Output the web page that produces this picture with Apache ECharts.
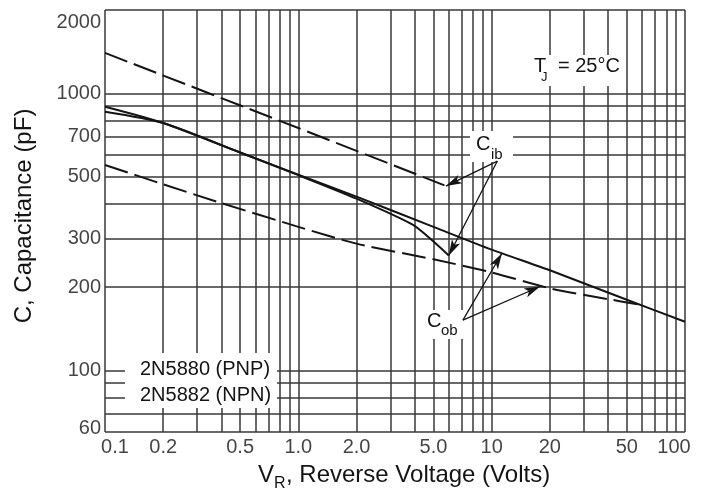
<!DOCTYPE html>
<html>
<head>
<meta charset="utf-8">
<script src="https://cdn.jsdelivr.net/npm/echarts@6/dist/echarts.min.js"></script>
<style>
  html, body { margin: 0; padding: 0; background: #fff; }
  #chart { width: 706px; height: 492px; }
</style>
</head>
<body>
<div id="chart"></div>
<script>
// Log-log grid: reverse voltage (V) and capacitance (pF)
const voltageGrid = [0.1, 0.2, 0.3, 0.4, 0.5, 0.6, 0.7, 0.8, 0.9, 1, 2, 3, 4, 5, 6, 7, 8, 9,
                     10, 20, 30, 40, 50, 60, 70, 80, 90, 100];
const capacitanceGrid = [60, 70, 80, 90, 100, 200, 300, 400, 500, 600, 700, 800, 900, 1000, 2000];

// Tick labels
const voltageTicks = [0.1, 0.2, 0.5, 1, 2, 5, 10, 20, 50, 100];
const voltageTickText = ['0.1', '0.2', '0.5', '1.0', '2.0', '5.0', '10', '20', '50', '100'];
const capacitanceTicks = [60, 100, 200, 300, 500, 700, 1000, 2000];

// Capacitance curves, [V_R, pF]
const cibPnp = [[0.1, 1400], [1, 750], [5.7, 466]];
const cibNpn = [[0.1, 859], [0.2, 782], [0.5, 612], [1, 507], [2, 417], [3.9, 336], [5, 292], [6, 260]];
const cobPnp = [[0.1, 552], [0.2, 470], [0.4, 402], [1, 330], [2, 287], [5, 252], [10, 226],
                [20, 198], [40, 181], [58, 173]];
const cobNpn = [[0.1, 895], [0.2, 782], [0.5, 612], [1, 509], [2, 424], [5, 330], [10, 273],
                [20, 230], [50, 180], [100, 150]];

// Pointer arrows from the C_ib / C_ob labels to their curves, [V_R, pF]
const cibPointers = [[[10.7, 570], [5.8, 463]], [[10.7, 570], [6.0, 260]]];
const cobPointers = [[[7.1, 152], [11.3, 265]], [[7.1, 152], [17.8, 201]]];

const ink = '#141414';
const family = '"Liberation Sans", Arial, Helvetica, sans-serif';

const chart = echarts.init(document.getElementById('chart'), null, { renderer: 'canvas' });

function curve(name, data, dashed) {
  return {
    name, type: 'line', data, z: 5,
    showSymbol: false, smooth: 0.25,
    lineStyle: { color: ink, width: 2, type: dashed ? [24, 7] : 'solid' }
  };
}

function pointer(pairs) {
  return pairs.map(([from, to]) => [{ coord: from }, { coord: to }]);
}

function txt(x, y, text, size, extra) {
  return Object.assign({
    type: 'text', z: 6, x, y,
    style: { text, fontSize: size, fontFamily: family, fill: ink, verticalAlign: 'middle' }
  }, extra || {});
}

function panel(x, y, w, h) {
  return { type: 'rect', z: 3, shape: { x, y, width: w, height: h }, style: { fill: '#fff' } };
}

const option = {
  animation: false,
  backgroundColor: '#fff',
  grid: { left: 105, top: 10, width: 580, height: 422, containLabel: false },
  xAxis: {
    type: 'log', logBase: 10, min: 0.1, max: 100,
    axisLine: { show: false }, axisTick: { show: false },
    axisLabel: { show: false }, splitLine: { show: false }
  },
  yAxis: {
    type: 'log', logBase: 10, min: 60, max: 2000,
    axisLine: { show: false }, axisTick: { show: false },
    axisLabel: { show: false }, splitLine: { show: false }
  },
  series: [
    {
      name: 'grid', type: 'line', data: [], z: 1, silent: true,
      markLine: {
        z: 1, silent: true, animation: false,
        symbol: ['none', 'none'],
        label: { show: false },
        lineStyle: { color: '#383838', width: 1.5, type: 'solid' },
        data: voltageGrid.map(v => ({ xAxis: v }))
          .concat(capacitanceGrid.map(v => ({ yAxis: v })))
      }
    },
    curve('Cib 2N5880', cibPnp, true),
    curve('Cib 2N5882', cibNpn, false),
    curve('Cob 2N5880', cobPnp, true),
    curve('Cob 2N5882', cobNpn, false),
    {
      name: 'pointers', type: 'line', data: [], z: 7, silent: true,
      markLine: {
        z: 7, silent: true, animation: false,
        symbol: ['none', 'arrow'],
        symbolSize: [7, 16],
        label: { show: false },
        lineStyle: { color: ink, width: 1.3, type: 'solid' },
        data: pointer(cibPointers).concat(pointer(cobPointers))
      }
    },
    {
      name: 'x ticks', type: 'scatter', z: 8, silent: true,
      symbolSize: 0,
      label: {
        show: true, position: 'bottom', distance: 5,
        fontSize: 20, fontFamily: family, color: ink
      },
      data: voltageTicks.map((v, i) => {
        const item = { value: [v, capacitanceGrid[0]], label: { formatter: voltageTickText[i] } };
        if (i === 0) item.label.offset = [10, 0];
        if (i === voltageTicks.length - 1) item.label.offset = [-11, 0];
        return item;
      })
    },
    {
      name: 'y ticks', type: 'scatter', z: 8, silent: true,
      symbolSize: 0,
      label: {
        show: true, position: 'left', distance: 4,
        fontSize: 20, fontFamily: family, color: ink,
        formatter: p => String(p.value[1])
      },
      data: capacitanceTicks.map((v, i) => {
        const item = { value: [voltageGrid[0], v] };
        if (i === 0) item.label = { offset: [0, -4] };
        if (i === capacitanceTicks.length - 1) item.label = { offset: [0, 12] };
        return item;
      })
    }
  ],
  graphic: [
    // white panels that break the grid behind in-plot text
    panel(125, 353, 152, 55),
    panel(470, 131, 43, 31),
    panel(424, 310, 39, 29),
    panel(530, 55, 92, 31),

    // part-number key
    txt(140, 369, '2N5880 (PNP)', 20),
    txt(140, 395, '2N5882 (NPN)', 20),

    // curve labels
    txt(476, 144, 'C', 20),
    txt(491, 155, 'ib', 15),
    txt(427, 321, 'C', 20),
    txt(441, 331, 'ob', 15),

    // junction temperature
    txt(534, 66, 'T', 20),
    txt(541, 77, 'J', 13),
    txt(558, 66, '= 25°C', 20),

    // axis titles
    txt(258, 475, 'V', 24),
    txt(274, 484, 'R', 16),
    txt(286, 475, ', Reverse Voltage (Volts)', 24),
    {
      type: 'text', z: 6, x: 24, y: 216, rotation: Math.PI / 2,
      style: {
        text: 'C, Capacitance (pF)', fontSize: 24, fontFamily: family, fill: ink,
        align: 'center', verticalAlign: 'middle'
      }
    }
  ]
};

chart.setOption(option);
</script>
</body>
</html>
